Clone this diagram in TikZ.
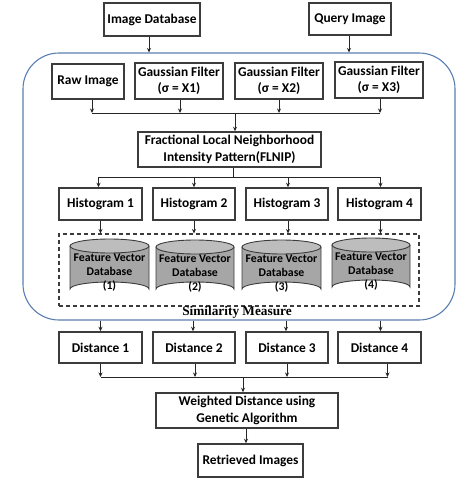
\documentclass[tikz,border=0pt]{standalone}
\usepackage{fontspec}
\setmainfont{Carlito}
\newfontfamily\tmsfont{Liberation Serif}
\usetikzlibrary{arrows.meta}
\definecolor{boxline}{HTML}{3C3C3C}
\definecolor{contline}{HTML}{5B7FB0}
\definecolor{cylbody}{HTML}{A6A6A6}
\definecolor{cyltop}{HTML}{BDBDBD}
\begin{document}
\begin{tikzpicture}[x=1pt,y=-1pt,
  stepbox/.style={draw=boxline,line width=1.5pt,fill=white,align=center,inner sep=0pt,
    font=\bfseries\fontsize{13.4}{16.5}\selectfont},
  conn/.style={draw=black!85,line width=0.9pt},
  arr/.style={conn,-{Stealth[length=4.5pt,width=4pt]}},
  cyl/.style={draw=boxline,line width=0.9pt},
  cyltext/.style={align=center,inner sep=0pt,font=\bfseries\fontsize{11.8}{14}\selectfont}]
\useasboundingbox (0,0) rectangle (461,482);

% container
\node[draw=contline,line width=1.1pt,rounded corners=36pt,minimum width=432pt,minimum height=267pt,inner sep=0pt] (cont) at (239,186.5) {};

% top inputs
\node[stepbox,minimum width=96pt,minimum height=33pt] (imgdb) at (152,19.5) {Image Database};
\node[stepbox,minimum width=82pt,minimum height=32pt] (query) at (350,19) {Query Image};

% filters
\node[stepbox,minimum width=72pt,minimum height=35pt] (raw) at (88,81.5) {Raw Image};
\node[stepbox,minimum width=88pt,minimum height=36pt] (g1) at (179,81) {Gaussian Filter\\(σ = X1)};
\node[stepbox,minimum width=88pt,minimum height=36pt] (g2) at (279,81) {Gaussian Filter\\(σ = X2)};
\node[stepbox,minimum width=88pt,minimum height=36pt] (g3) at (379,80) {Gaussian Filter\\(σ = X3)};

\node[stepbox,minimum width=183pt,minimum height=35pt] (flnip) at (229.5,149.5) {Fractional Local Neighborhood\\Intensity Pattern(FLNIP)};

% histograms
\node[stepbox,minimum width=83pt,minimum height=32pt] (h1) at (100.5,204) {Histogram 1};
\node[stepbox,minimum width=82pt,minimum height=32pt] (h2) at (194,204) {Histogram 2};
\node[stepbox,minimum width=82pt,minimum height=32pt] (h3) at (287,204) {Histogram 3};
\node[stepbox,minimum width=83pt,minimum height=32pt] (h4) at (379.5,204) {Histogram 4};

% dashed box
\node[draw=boxline,line width=1.1pt,dash pattern=on 4pt off 3pt,minimum width=360pt,minimum height=72pt,inner sep=0pt] (dbox) at (239,270) {};

% cylinders
\foreach \i/\a/\b/\t/\bt in {1/70/149/239/296, 2/156/234/240/296, 3/242/321/240/296, 4/332/410/238/294}{
  \pgfmathsetmacro{\rx}{(\b-\a)/2}
  \pgfmathsetmacro{\cx}{(\a+\b)/2}
  \fill[cylbody] (\a,\t+7) -- (\a,\bt-7) arc[start angle=180,end angle=360,x radius=\rx pt,y radius=-7pt] -- (\b,\t+7) -- cycle;
  \draw[cyl] (\a,\t+7) -- (\a,\bt-7) arc[start angle=180,end angle=360,x radius=\rx pt,y radius=-7pt] -- (\b,\t+7);
  \draw[cyl,fill=cyltop] (\cx,\t+7) ellipse[x radius=\rx pt,y radius=7pt];
}
\node[cyltext] (c1) at (109.5,273) {Feature Vector\\Database\\(1)};
\node[cyltext] (c2) at (195,273.5) {Feature Vector\\Database\\(2)};
\node[cyltext] (c3) at (281.5,273.5) {Feature Vector\\Database\\(3)};
\node[cyltext] (c4) at (371,271.5) {Feature Vector\\Database\\(4)};

\node[inner sep=0pt,font=\tmsfont\bfseries\fontsize{13.3}{14}\selectfont] (sim) at (237,312) {Similarity Measure};

% distances
\node[stepbox,minimum width=83pt,minimum height=31pt] (d1) at (100.5,347.5) {Distance 1};
\node[stepbox,minimum width=82pt,minimum height=31pt] (d2) at (194,347.5) {Distance 2};
\node[stepbox,minimum width=82pt,minimum height=31pt] (d3) at (287,347.5) {Distance 3};
\node[stepbox,minimum width=83pt,minimum height=31pt] (d4) at (379.5,347.5) {Distance 4};

\node[stepbox,minimum width=182pt,minimum height=35pt] (wd) at (247,410.5) {Weighted Distance using\\Genetic Algorithm};
\node[stepbox,minimum width=105pt,minimum height=33pt] (ret) at (250.5,460.5) {Retrieved Images};

% connectors: inputs to container
\draw[arr] ([xshift=-3pt]imgdb.south) -- ([xshift=-3pt]imgdb.south |- cont.north);
\draw[arr] ([xshift=-1pt]query.south) -- ([xshift=-1pt]query.south |- cont.north);

% filters to bus 1
\coordinate (bus1) at (235,113);
\foreach \n/\s in {raw/4,g1/1,g2/0,g3/1}{
  \draw[arr] ([xshift=\s pt]\n.south) -- ([xshift=\s pt]\n.south |- bus1);
}
\draw[conn] ([xshift=4pt]raw.south |- bus1) -- ([xshift=1pt]g3.south |- bus1);
\draw[arr] (bus1) -- (bus1 |- flnip.north);

% flnip to histograms
\coordinate (bus2) at (233,177);
\draw[conn] (bus2 |- flnip.south) -- (bus2);
\draw[conn] ([xshift=-2pt]h1.north |- bus2) -- ([xshift=1pt]h4.north |- bus2);
\draw[arr] ([xshift=-2pt]h1.north |- bus2) -- ([xshift=-2pt]h1.north);
\foreach \n/\s in {h2/0,h3/1,h4/1}{
  \draw[arr] ([xshift=\s pt]\n.north |- bus2) -- ([xshift=\s pt]\n.north);
}

% histograms to dashed box
\foreach \n/\s in {h1/0,h2/0,h3/1,h4/1}{
  \draw[arr] ([xshift=\s pt]\n.south) -- ([xshift=\s pt]\n.south |- dbox.north);
}

% container to distances
\foreach \n/\s in {d1/0,d2/-1,d3/-1,d4/1}{
  \draw[arr] ([xshift=\s pt]\n.north |- cont.south) -- ([xshift=\s pt]\n.north);
}

% distances to bus 3
\coordinate (bus3) at (243,377);
\foreach \n/\s in {d1/0,d2/1,d3/0,d4/8}{
  \draw[arr] ([xshift=\s pt]\n.south) -- ([xshift=\s pt]\n.south |- bus3);
}
\draw[conn] (d1.south |- bus3) -- ([xshift=8pt]d4.south |- bus3);
\draw[arr] (bus3) -- (bus3 |- wd.north);

\draw[arr] ([xshift=-1pt]wd.south) -- ([xshift=-1pt]wd.south |- ret.north);
\end{tikzpicture}
\end{document}
